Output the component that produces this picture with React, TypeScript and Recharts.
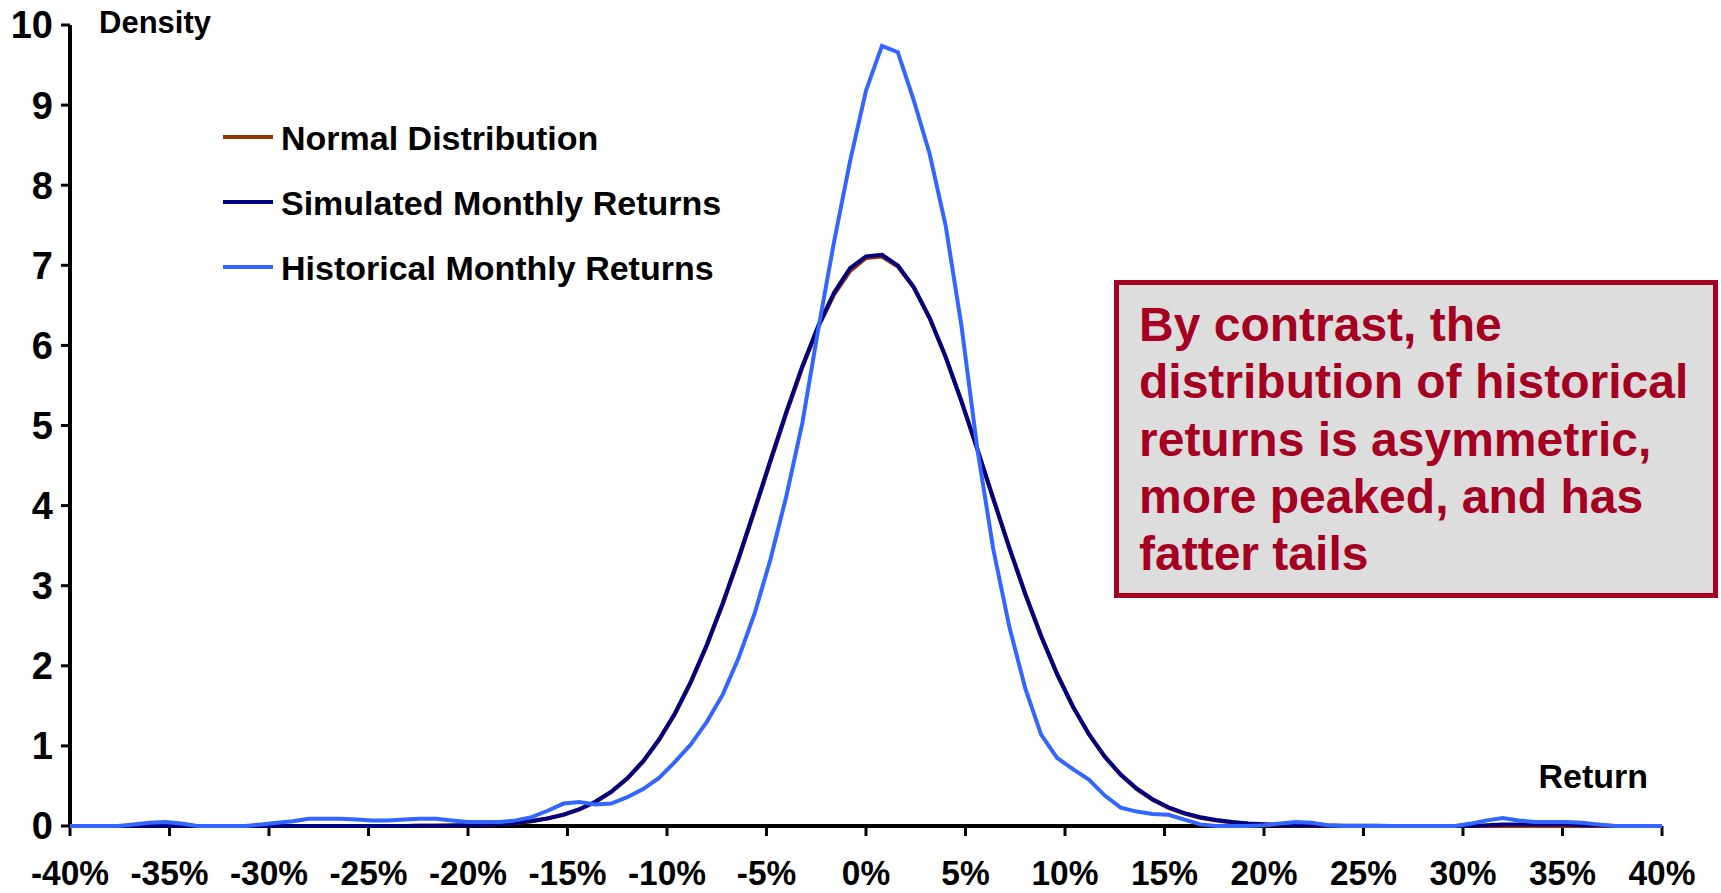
import { LineChart, Line, XAxis, YAxis, Legend } from "recharts";

// Return buckets, 0.8% apart
const returns = [
  -40, -39.2, -38.4, -37.6, -36.8, -36, -35.2, -34.4, -33.6, -32.8,
  -32, -31.2, -30.4, -29.6, -28.8, -28, -27.2, -26.4, -25.6, -24.8,
  -24, -23.2, -22.4, -21.6, -20.8, -20, -19.2, -18.4, -17.6, -16.8,
  -16, -15.2, -14.4, -13.6, -12.8, -12, -11.2, -10.4, -9.6, -8.8,
  -8, -7.2, -6.4, -5.6, -4.8, -4, -3.2, -2.4, -1.6, -0.8,
  0,
  0.8, 1.6, 2.4, 3.2, 4, 4.8, 5.6, 6.4, 7.2, 8,
  8.8, 9.6, 10.4, 11.2, 12, 12.8, 13.6, 14.4, 15.2, 16,
  16.8, 17.6, 18.4, 19.2, 20, 20.8, 21.6, 22.4, 23.2, 24,
  24.8, 25.6, 26.4, 27.2, 28, 28.8, 29.6, 30.4, 31.2, 32,
  32.8, 33.6, 34.4, 35.2, 36, 36.8, 37.6, 38.4, 39.2, 40,
];

const normalDensity = [
  0, 0, 0, 0, 0, 0, 0, 0, 0, 0,
  0, 0, 0, 0, 0, 0, 0, 0, 0, 0,
  0, 0, 0.002, 0.003, 0.005, 0.009, 0.015, 0.024, 0.038, 0.06,
  0.093, 0.14, 0.206, 0.299, 0.424, 0.59, 0.803, 1.072, 1.399, 1.793,
  2.25, 2.767, 3.333, 3.935, 4.55, 5.155, 5.723, 6.227, 6.637, 6.93,
  7.092,
  7.11, 6.984, 6.722, 6.339, 5.857, 5.302, 4.703, 4.087, 3.48, 2.904,
  2.375, 1.902, 1.492, 1.148, 0.864, 0.638, 0.461, 0.327, 0.227, 0.154,
  0.103, 0.067, 0.043, 0.027, 0.017, 0.01, 0.006, 0.003, 0.002, 0,
  0, 0, 0, 0, 0, 0, 0, 0, 0, 0,
  0, 0, 0, 0, 0, 0, 0, 0, 0, 0,
];

const simulatedDensity = [
  0, 0, 0, 0, 0, 0, 0, 0, 0, 0,
  0, 0, 0, 0, 0, 0, 0, 0, 0, 0,
  0, 0, 0.003, 0.004, 0.006, 0.01, 0.016, 0.025, 0.04, 0.062,
  0.095, 0.142, 0.209, 0.302, 0.428, 0.596, 0.81, 1.08, 1.408, 1.802,
  2.262, 2.781, 3.349, 3.952, 4.568, 5.172, 5.741, 6.245, 6.66, 6.965,
  7.112,
  7.132, 6.997, 6.728, 6.341, 5.858, 5.3, 4.698, 4.08, 3.472, 2.897,
  2.369, 1.897, 1.489, 1.146, 0.866, 0.642, 0.468, 0.334, 0.234, 0.161,
  0.11, 0.074, 0.049, 0.032, 0.021, 0.014, 0.009, 0.006, 0.004, 0.003,
  0.002, 0.002, 0.001, 0.001, 0.001, 0, 0, 0, 0.01, 0.02,
  0.02, 0.02, 0.02, 0.02, 0.01, 0.01, 0, 0, 0, 0,
];

const historicalDensity = [
  0, 0, 0, 0, 0.02, 0.04, 0.05, 0.03, 0, 0,
  0, 0, 0.02, 0.04, 0.06, 0.09, 0.09, 0.09, 0.08, 0.07,
  0.07, 0.08, 0.09, 0.09, 0.07, 0.05, 0.05, 0.05, 0.07, 0.11,
  0.19, 0.28, 0.3, 0.27, 0.28, 0.36, 0.46, 0.6, 0.8, 1.02,
  1.3, 1.64, 2.1, 2.65, 3.33, 4.12, 5.03, 6.2, 7.3, 8.3,
  9.18,
  9.74, 9.66, 9.06, 8.39, 7.5, 6.24, 4.7, 3.45, 2.49, 1.72,
  1.14, 0.85, 0.71, 0.58, 0.38, 0.23, 0.18, 0.15, 0.14, 0.08,
  0.02, 0, 0, 0, 0.01, 0.03, 0.05, 0.04, 0.01, 0,
  0, 0, 0, 0, 0, 0, 0, 0.03, 0.07, 0.1,
  0.07, 0.05, 0.05, 0.05, 0.04, 0.02, 0, 0, 0, 0,
];

const returnTicks = [-40, -35, -30, -25, -20, -15, -10, -5, 0, 5, 10, 15, 20, 25, 30, 35, 40];
const densityTicks = [0, 1, 2, 3, 4, 5, 6, 7, 8, 9, 10];

const series = [
  { key: "normal", name: "Normal Distribution", color: "#993300" },
  { key: "simulated", name: "Simulated Monthly Returns", color: "#000080" },
  { key: "historical", name: "Historical Monthly Returns", color: "#3366FF" },
];

const noteLines = [
  "By contrast, the",
  "distribution of historical",
  "returns is asymmetric,",
  "more peaked, and has",
  "fatter tails",
];

const FONT = "'Liberation Sans', Arial, Helvetica, sans-serif";

const data = returns.map((r, i) => ({
  ret: r,
  normal: normalDensity[i],
  simulated: simulatedDensity[i],
  historical: historicalDensity[i],
}));

function SeriesLegend() {
  return (
    <div style={{ fontFamily: FONT, fontWeight: 700, fontSize: 34, color: "#000" }}>
      {series.map((s) => (
        <div key={s.key} style={{ display: "flex", alignItems: "center", height: 65 }}>
          <span style={{ display: "inline-block", width: 50, height: 4, background: s.color, marginRight: 8 }} />
          <span style={{ paddingTop: 3, whiteSpace: "nowrap" }}>{s.name}</span>
        </div>
      ))}
    </div>
  );
}

// percent labels under the axis, slightly narrowed
function ReturnTick(props: any) {
  const { x, y, payload } = props;
  return (
    <text
      transform={`translate(${x},${y + 49}) scale(0.93,1)`}
      textAnchor="middle"
      fontFamily={FONT}
      fontWeight={700}
      fontSize={36}
      fill="#000"
    >
      {`${payload.value}%`}
    </text>
  );
}

function DensityLabel(props: any) {
  const { viewBox } = props;
  return (
    <text x={viewBox.x + viewBox.width + 29} y={viewBox.y + 8} fontFamily={FONT} fontWeight={700} fontSize={31} fill="#000">
      Density
    </text>
  );
}

function ReturnLabel(props: any) {
  const { viewBox } = props;
  return (
    <text x={viewBox.x + viewBox.width - 14} y={viewBox.y - 38} textAnchor="end" fontFamily={FONT} fontWeight={700} fontSize={34} fill="#000">
      Return
    </text>
  );
}

export default function App() {
  return (
    <div style={{ position: "absolute", left: 0, top: 0, width: 1721, height: 893, background: "#fff" }}>
      <LineChart width={1721} height={893} data={data} margin={{ top: 25, right: 59, bottom: 17, left: 10 }}>
        <XAxis
          dataKey="ret"
          type="number"
          domain={[-40, 40]}
          ticks={returnTicks}
          interval={0}
          height={50}
          tickSize={10}
          tickMargin={0}
          axisLine={{ stroke: "#000", strokeWidth: 4 }}
          tickLine={{ stroke: "#000", strokeWidth: 3 }}
          tick={<ReturnTick />}
          label={<ReturnLabel />}
        />
        <YAxis
          domain={[0, 10]}
          ticks={densityTicks}
          interval={0}
          width={60}
          tickSize={9}
          tickMargin={8}
          axisLine={{ stroke: "#000", strokeWidth: 4 }}
          tickLine={{ stroke: "#000", strokeWidth: 3 }}
          tick={{ fill: "#000", fontSize: 38, fontWeight: 700, fontFamily: FONT }}
          label={<DensityLabel />}
        />
        <Legend
          layout="vertical"
          align="center"
          verticalAlign="middle"
          content={<SeriesLegend />}
          wrapperStyle={{ left: 223, top: 104, width: 520, height: 200 }}
        />
        {series.map((s) => (
          <Line
            key={s.key}
            type="linear"
            dataKey={s.key}
            name={s.name}
            stroke={s.color}
            strokeWidth={4}
            dot={false}
            activeDot={false}
            zIndex={600}
            isAnimationActive={false}
          />
        ))}
      </LineChart>
      <div
        style={{
          position: "absolute",
          left: 1114,
          top: 280,
          width: 604,
          height: 318,
          boxSizing: "border-box",
          border: "5px solid #A50021",
          background: "#DDDDDD",
          padding: "11px 0 0 20px",
          fontFamily: FONT,
          fontWeight: 700,
          fontSize: 48,
          lineHeight: "57.3px",
          color: "#A50021",
          whiteSpace: "nowrap",
        }}
      >
        {noteLines.map((line) => (
          <div key={line}>{line}</div>
        ))}
      </div>
    </div>
  );
}
